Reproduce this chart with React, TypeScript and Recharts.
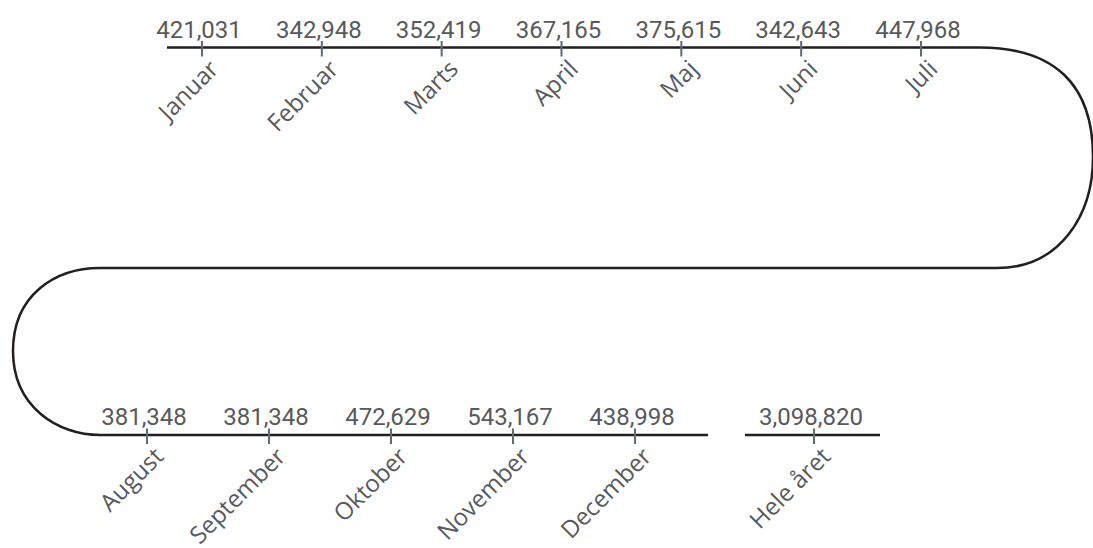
import React from 'react';
import { ComposedChart, Line, XAxis, YAxis, Customized } from 'recharts';

const topMonths = ['Januar', 'Februar', 'Marts', 'April', 'Maj', 'Juni', 'Juli'];
const topValues = [421031, 342948, 352419, 367165, 375615, 342643, 447968];
const bottomMonths = ['August', 'September', 'Oktober', 'November', 'December'];
const bottomValues = [381348, 381348, 472629, 543167, 438998];
const totalLabels = ['Hele året'];
const totalValues = [3098820];

const topData = topMonths.map((m, i) => ({ month: m, value: topValues[i] }));
const bottomData = bottomMonths.map((m, i) => ({ month: m, value: bottomValues[i] }));
const totalData = totalLabels.map((m, i) => ({ month: m, value: totalValues[i] }));

const W = 1093;
const H = 548;
const TOP_Y = 47.5;
const MID_Y = 268;
const BOT_Y = 435;

const LINE_COLOR = '#231f20';
const TICK_COLOR = '#5b6c75';
const TEXT_COLOR = '#58595b';

const fmt = (v: number) => v.toLocaleString('en-US');

const makeTick = (values: number[], dy: number) => (props: any) => {
  const { x, payload, index } = props;
  const y = props.y + dy;
  const v = values[index];
  const lx = x + 18;
  const ly = y + 23;
  return (
    <g>
      <line x1={x} x2={x} y1={y - 6.5} y2={y + 9} stroke={TICK_COLOR} strokeWidth={2} />
      <text
        x={x - 3}
        y={y - 10}
        textAnchor="middle"
        fontFamily="Roboto"
        fontSize={24}
        fill={TEXT_COLOR}
      >
        {fmt(v)}
      </text>
      <text
        x={lx}
        y={ly}
        textAnchor="end"
        fontFamily="Open Sans"
        fontSize={24}
        fill={TEXT_COLOR}
        transform={`rotate(-45, ${lx}, ${ly})`}
      >
        {payload.value}
      </text>
    </g>
  );
};

const Snake = () => {
  const d = [
    `M 167 ${TOP_Y} L 980 ${TOP_Y}`,
    `C 1055 ${TOP_Y} 1093 85 1093 157`,
    `C 1093 215 1060 ${MID_Y} 997 ${MID_Y}`,
    `L 100 ${MID_Y}`,
    `C 55 ${MID_Y} 13 295 13 351`,
    `C 13 407 58 ${BOT_Y} 100 ${BOT_Y}`,
    `L 708 ${BOT_Y}`,
    `M 745 ${BOT_Y} L 880 ${BOT_Y}`,
  ].join(' ');
  return <path d={d} fill="none" stroke={LINE_COLOR} strokeWidth={2.5} />;
};

const axisCommon = {
  dataKey: 'month',
  type: 'category' as const,
  scale: 'point' as const,
  height: 1,
  axisLine: false,
  tickLine: false,
  tickSize: 0,
  tickMargin: 0,
  interval: 0 as const,
  allowDuplicatedCategory: false,
};

export default function App() {
  return (
    <div style={{ position: 'absolute', left: 0, top: 0, width: W, height: H, background: '#fff' }}>
      <ComposedChart
        width={W}
        height={H}
        margin={{ top: TOP_Y - 1, right: 0, bottom: H - BOT_Y - 2, left: 0 }}
      >
        <Customized component={Snake} />
        <YAxis yAxisId="y" hide domain={[0, 4000000]} />
        <XAxis
          {...axisCommon}
          xAxisId="top"
          orientation="top"
          padding={{ left: 202, right: W - 921 }}
          tick={makeTick(topValues, 0)}
        />
        <XAxis
          {...axisCommon}
          xAxisId="bottom"
          orientation="bottom"
          padding={{ left: 147, right: W - 635 }}
          tick={makeTick(bottomValues, 0)}
        />
        <XAxis
          {...axisCommon}
          xAxisId="total"
          orientation="bottom"
          padding={{ left: 800, right: W - 828 }}
          tick={makeTick(totalValues, -1)}
        />
        <Line
          data={topData}
          xAxisId="top"
          yAxisId="y"
          dataKey="value"
          stroke="none"
          dot={false}
          activeDot={false}
          isAnimationActive={false}
        />
        <Line
          data={bottomData}
          xAxisId="bottom"
          yAxisId="y"
          dataKey="value"
          stroke="none"
          dot={false}
          activeDot={false}
          isAnimationActive={false}
        />
        <Line
          data={totalData}
          xAxisId="total"
          yAxisId="y"
          dataKey="value"
          stroke="none"
          dot={false}
          activeDot={false}
          isAnimationActive={false}
        />
      </ComposedChart>
    </div>
  );
}
